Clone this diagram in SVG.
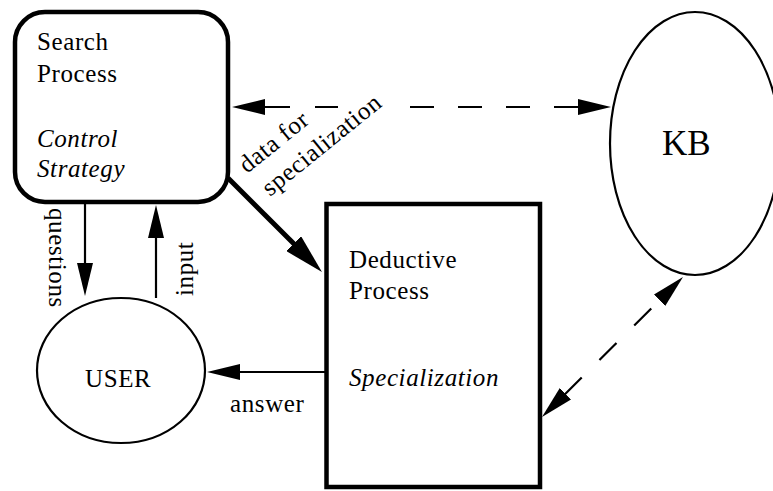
<svg xmlns="http://www.w3.org/2000/svg" width="773" height="491" viewBox="0 0 773 491">
  <style>
    .lbl { font-family: "Liberation Serif", "Times New Roman", serif; font-size: 25px; letter-spacing: 0.6px; fill: #000; }
    .it { font-style: italic; }
    .box { fill: #fff; stroke: #000; stroke-width: 4.5; }
    .oval { fill: #fff; stroke: #000; stroke-width: 2.2; }
    .conn { fill: none; stroke: #000; stroke-width: 2.2; }
    .thick { fill: none; stroke: #000; stroke-width: 5; }
    .dash { stroke-dasharray: 24 25; }
  </style>
  <defs>
    <marker id="head" viewBox="0 0 33 16" refX="1" refY="8" markerWidth="33" markerHeight="16" markerUnits="userSpaceOnUse" orient="auto-start-reverse">
      <path d="M0,0 L33,8 L0,16 z" fill="#000"/>
    </marker>
    <marker id="headBig" viewBox="0 0 40 21" refX="2" refY="10.5" markerWidth="40" markerHeight="21" markerUnits="userSpaceOnUse" orient="auto">
      <path d="M0,0 L40,10.5 L0,21 z" fill="#000"/>
    </marker>
  </defs>

  <!-- nodes -->
  <g id="search-process">
    <rect class="box" x="15" y="12" width="213" height="190" rx="30" ry="30"/>
    <text class="lbl" x="37" y="50">Search</text>
    <text class="lbl" x="37" y="82">Process</text>
    <text class="lbl it" x="37" y="147">Control</text>
    <text class="lbl it" x="37" y="177">Strategy</text>
  </g>

  <g id="deductive-process">
    <rect class="box" x="326.5" y="204" width="213.5" height="283"/>
    <text class="lbl" x="349" y="268">Deductive</text>
    <text class="lbl" x="349" y="299">Process</text>
    <text class="lbl it" x="349" y="386">Specialization</text>
  </g>

  <g id="kb">
    <ellipse class="oval" cx="695" cy="143.5" rx="85" ry="131.5"/>
    <text class="lbl" x="662" y="155" style="font-size:35px;letter-spacing:0">KB</text>
  </g>

  <g id="user">
    <ellipse class="oval" cx="121" cy="370.5" rx="84" ry="72.5"/>
    <text class="lbl" x="85" y="387">USER</text>
  </g>

  <!-- connectors -->
  <g id="connectors">
    <!-- search process <-> KB, dashed; one dash left out under the label -->
    <path class="conn" d="M264,107 H290 M315,107 H338 M410,107 H434 M458,107 H482 M506,107 H530 M554,107 H579" marker-start="url(#head)" marker-end="url(#head)"/>
    <!-- deductive process <-> KB, dashed -->
    <path class="conn dash" d="M564.7,394.5 L660.3,299.5" marker-start="url(#head)" marker-end="url(#head)"/>
    <!-- search process -> deductive process -->
    <path class="thick" d="M228,178 L295.1,245.1" marker-end="url(#headBig)"/>
    <!-- questions / input -->
    <path class="conn" d="M85,204 V264" marker-end="url(#head)"/>
    <path class="conn" d="M156,298 V237" marker-end="url(#head)"/>
    <!-- answer -->
    <path class="conn" d="M326,372 H239" marker-end="url(#head)"/>

    <text class="lbl" transform="translate(48.5,208) rotate(90)">questions</text>
    <text class="lbl" transform="translate(193,296) rotate(-90)">input</text>
    <text class="lbl" x="230" y="412">answer</text>
    <text class="lbl" transform="translate(247,174) rotate(-39)">data for</text>
    <text class="lbl" transform="translate(270,197) rotate(-39)">specialization</text>
  </g>
</svg>
